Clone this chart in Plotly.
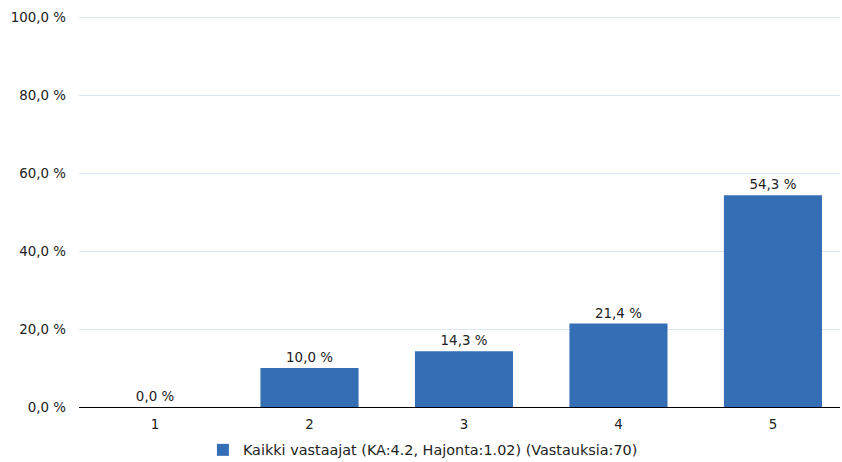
import plotly.graph_objects as go

categories = ["1", "2", "3", "4", "5"]
values = [0.0, 10.0, 14.3, 21.4, 54.3]
series_name = "Kaikki vastaajat (KA:4.2, Hajonta:1.02) (Vastauksia:70)"
y_ticks = [0, 20, 40, 60, 80, 100]

FONT = "DejaVu Sans, Liberation Sans, Arial, sans-serif"

def fmt(v):
    return f"{v:.1f}".replace(".", ",") + " %"

fig = go.Figure()
fig.add_trace(go.Bar(
    x=categories,
    y=values,
    name=series_name,
    marker=dict(color="#346fb6", line=dict(width=0)),
    text=[fmt(v) for v in values],
    textposition="outside",
    textfont=dict(family=FONT, size=13.4, color="#222222"),
    cliponaxis=False,
    showlegend=True,
))

fig.update_layout(
    width=842, height=462,
    margin=dict(l=79, r=2, t=16, b=55),
    paper_bgcolor="white", plot_bgcolor="white",
    bargap=0.365,
    font=dict(family=FONT, size=13.4, color="#222222"),
    xaxis=dict(
        type="category",
        range=[-0.492, 4.434],
        showgrid=False,
        showline=True, linecolor="#000000", linewidth=1,
        ticks="", ticklen=0,
        ticklabelstandoff=5,
        tickfont=dict(size=13.4),
        automargin=False,
        fixedrange=True,
    ),
    yaxis=dict(
        range=[0, 100.3],
        tickvals=y_ticks,
        ticktext=[fmt(v) for v in y_ticks],
        showgrid=True, gridcolor="#dde7f3", gridwidth=1,
        zeroline=False,
        showline=False,
        ticks="",
        ticklabelstandoff=12,
        tickfont=dict(size=13.4),
        automargin=False,
    ),
    showlegend=True,
    legend=dict(
        orientation="h",
        xref="container", yref="container",
        x=0.241, xanchor="left",
        y=0.026, yanchor="middle",
        font=dict(size=14.4),
        itemwidth=30,
        bgcolor="rgba(0,0,0,0)",
    ),
)

fig.write_html(
    "out.html",
    config={"displayModeBar": False},
    post_script="document.body.style.margin='0';document.body.style.padding='0';",
)
